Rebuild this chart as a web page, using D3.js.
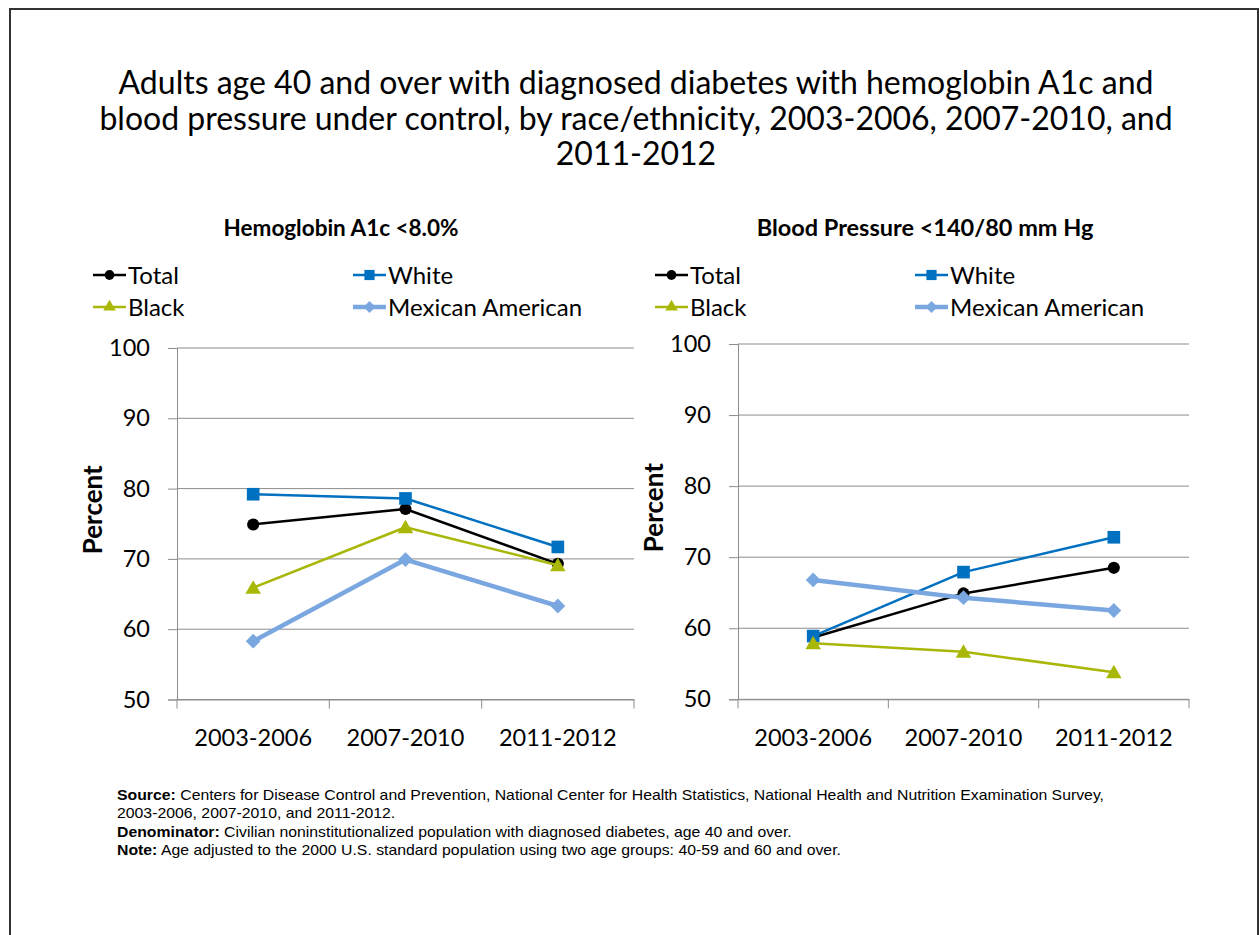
<!DOCTYPE html>
<html>
<head>
<meta charset="utf-8">
<script src="https://cdn.jsdelivr.net/npm/d3@7"></script>
<style>
  body { margin: 0; background: #fff; }
  svg { display: block; }
</style>
</head>
<body>
<script>
"use strict";
var periods = ["2003-2006", "2007-2010", "2011-2012"];
var seriesNames = ["Total", "White", "Black", "Mexican American"];
var yTicks = [50, 60, 70, 80, 90, 100];

// Hemoglobin A1c <8.0%
var a1cTotal = [74.9, 77.1, 69.3];
var a1cWhite = [79.2, 78.6, 71.7];
var a1cBlack = [65.9, 74.5, 69.1];
var a1cMexican = [58.3, 69.9, 63.3];

// Blood pressure <140/80 mm Hg
var bpTotal = [58.7, 64.9, 68.5];
var bpWhite = [58.9, 67.9, 72.8];
var bpBlack = [57.9, 56.7, 53.8];
var bpMexican = [66.8, 64.3, 62.5];

var FONT = "Lato, 'Open Sans', sans-serif";

var styles = {
  "Total": { color: "#000000", width: 2.5, marker: d3.symbolCircle, size: 115, rot: 0 },
  "White": { color: "#0070C0", width: 2.5, marker: d3.symbolSquare, size: 160, rot: 0 },
  "Black": { color: "#A9B709", width: 2.5, marker: d3.symbolTriangle, size: 105, rot: 0 },
  "Mexican American": { color: "#7BA7E0", width: 4.5, marker: d3.symbolSquare, size: 110, rot: 45 }
};

var svg = d3.select("body").append("svg")
  .attr("width", 1259).attr("height", 935);

svg.append("rect").attr("x", 10).attr("y", 9).attr("width", 1248).attr("height", 940)
  .attr("fill", "none").attr("stroke", "#333").attr("stroke-width", 2);

var titleLines = [
  "Adults age 40 and over with diagnosed diabetes with hemoglobin A1c and",
  "blood pressure under control, by race/ethnicity, 2003-2006, 2007-2010, and",
  "2011-2012"
];
svg.append("text")
  .attr("font-family", FONT)
  .attr("font-size", 32)
  .attr("text-anchor", "middle")
  .selectAll("tspan").data(titleLines).join("tspan")
  .attr("x", 636).attr("y", function (d, i) { return 94 + i * 35.5; })
  .text(function (d) { return d; });

function panel(cfg) {
  var g = svg.append("g");
  var x = d3.scaleBand().domain(periods).range([cfg.left, cfg.right]);
  var y = d3.scaleLinear().domain([50, 100]).range([cfg.bottom, cfg.top]);

  g.append("text").attr("x", cfg.titleX).attr("y", 236)
    .attr("text-anchor", "middle").attr("font-weight", "bold")
    .attr("font-family", FONT).attr("font-size", cfg.titleSize)
    .text(cfg.title);

  // gridlines
  g.append("g").selectAll("line").data(yTicks).join("line")
    .attr("x1", cfg.left).attr("x2", cfg.right)
    .attr("y1", function (d) { return y(d); }).attr("y2", function (d) { return y(d); })
    .attr("stroke", "#8c8c8c").attr("stroke-width", 1);

  var ya = g.append("g").attr("transform", "translate(" + cfg.left + ",0)")
    .call(d3.axisLeft(y).tickValues(yTicks).tickSize(9).tickPadding(18));
  ya.select(".domain").attr("stroke", "#8c8c8c");
  ya.selectAll(".tick line").attr("stroke", "#8c8c8c");
  ya.selectAll("text").attr("font-family", FONT).attr("font-size", 23.5).attr("fill", "#000");

  var xa = g.append("g").attr("transform", "translate(0," + cfg.bottom + ")")
    .call(d3.axisBottom(x).tickSize(0).tickPadding(30));
  xa.select(".domain").attr("stroke", "#8c8c8c");
  xa.selectAll("text").attr("font-family", FONT).attr("font-size", 23.5).attr("fill", "#000");
  // category separators
  xa.append("g").selectAll("line").data(periods).join("line")
    .attr("x1", function (d) { return x(d) + x.bandwidth(); })
    .attr("x2", function (d) { return x(d) + x.bandwidth(); })
    .attr("y1", 0).attr("y2", 9).attr("stroke", "#8c8c8c");
  xa.append("line").attr("x1", cfg.left).attr("x2", cfg.left).attr("y1", 0).attr("y2", 9)
    .attr("stroke", "#8c8c8c");

  g.append("text")
    .attr("transform", "translate(" + (cfg.left - 75) + "," + ((cfg.top + cfg.bottom) / 2 - 14) + ") rotate(-90)")
    .attr("text-anchor", "middle").attr("font-weight", "bold")
    .attr("font-family", FONT).attr("font-size", 26)
    .text("Percent");

  var line = d3.line()
    .x(function (d, i) { return x(periods[i]) + x.bandwidth() / 2; })
    .y(function (d) { return y(d); });

  seriesNames.forEach(function (name, k) {
    var st = styles[name];
    var vals = cfg.data[k];
    g.append("path").datum(vals).attr("d", line)
      .attr("fill", "none").attr("stroke", st.color).attr("stroke-width", st.width)
      .attr("stroke-linejoin", "round");
    g.append("g").selectAll("path").data(vals).join("path")
      .attr("transform", function (d, i) {
        var dy = name === "Black" ? 1.5 : 0;
        return "translate(" + (x(periods[i]) + x.bandwidth() / 2) + "," + (y(d) + dy) + ") rotate(" + st.rot + ")";
      })
      .attr("d", d3.symbol().type(st.marker).size(st.size))
      .attr("fill", st.color);
  });

  // legend
  var lg = g.append("g").attr("font-family", FONT).attr("font-size", 24);
  seriesNames.forEach(function (name, k) {
    var st = styles[name];
    var lx = cfg.legendX + (k % 2) * 260;
    var ly = 275 + Math.floor(k / 2) * 32;
    lg.append("line").attr("x1", lx).attr("x2", lx + 33).attr("y1", ly).attr("y2", ly)
      .attr("stroke", st.color).attr("stroke-width", st.width);
    lg.append("path").attr("transform", "translate(" + (lx + 16.5) + "," + ly + ") rotate(" + st.rot + ")")
      .attr("d", d3.symbol().type(st.marker).size(st.size * 0.65))
      .attr("fill", st.color);
    lg.append("text").attr("x", lx + 35).attr("y", ly + 8.5).text(name);
  });
}

panel({
  title: "Hemoglobin A1c <8.0%", titleX: 341, titleSize: 22.5,
  left: 177, right: 634, top: 348, bottom: 699.5, legendX: 93,
  data: [a1cTotal, a1cWhite, a1cBlack, a1cMexican]
});
panel({
  title: "Blood Pressure <140/80 mm Hg", titleX: 925, titleSize: 23.5,
  left: 738, right: 1189, top: 344, bottom: 699.3, legendX: 655,
  data: [bpTotal, bpWhite, bpBlack, bpMexican]
});

var notes = [
  [["Source:", true], [" Centers for Disease Control and Prevention, National Center for Health Statistics, National Health and Nutrition Examination  Survey,", false]],
  [["2003-2006, 2007-2010, and 2011-2012.", false]],
  [["Denominator:", true], [" Civilian noninstitutionalized population with diagnosed diabetes, age 40 and over.", false]],
  [["Note:", true], [" Age adjusted to the 2000 U.S. standard population using two age groups: 40-59 and 60 and over.", false]]
];
var ng = svg.append("g")
  .attr("transform", "translate(117,0) scale(1.13,1)")
  .attr("font-family", "'Liberation Sans', Arial, sans-serif")
  .attr("font-size", 14);
notes.forEach(function (parts, i) {
  var t = ng.append("text").attr("x", 0).attr("y", 800 + i * 18.5);
  parts.forEach(function (p) {
    t.append("tspan").attr("font-weight", p[1] ? "bold" : "normal").text(p[0]);
  });
});
</script>
</body>
</html>
